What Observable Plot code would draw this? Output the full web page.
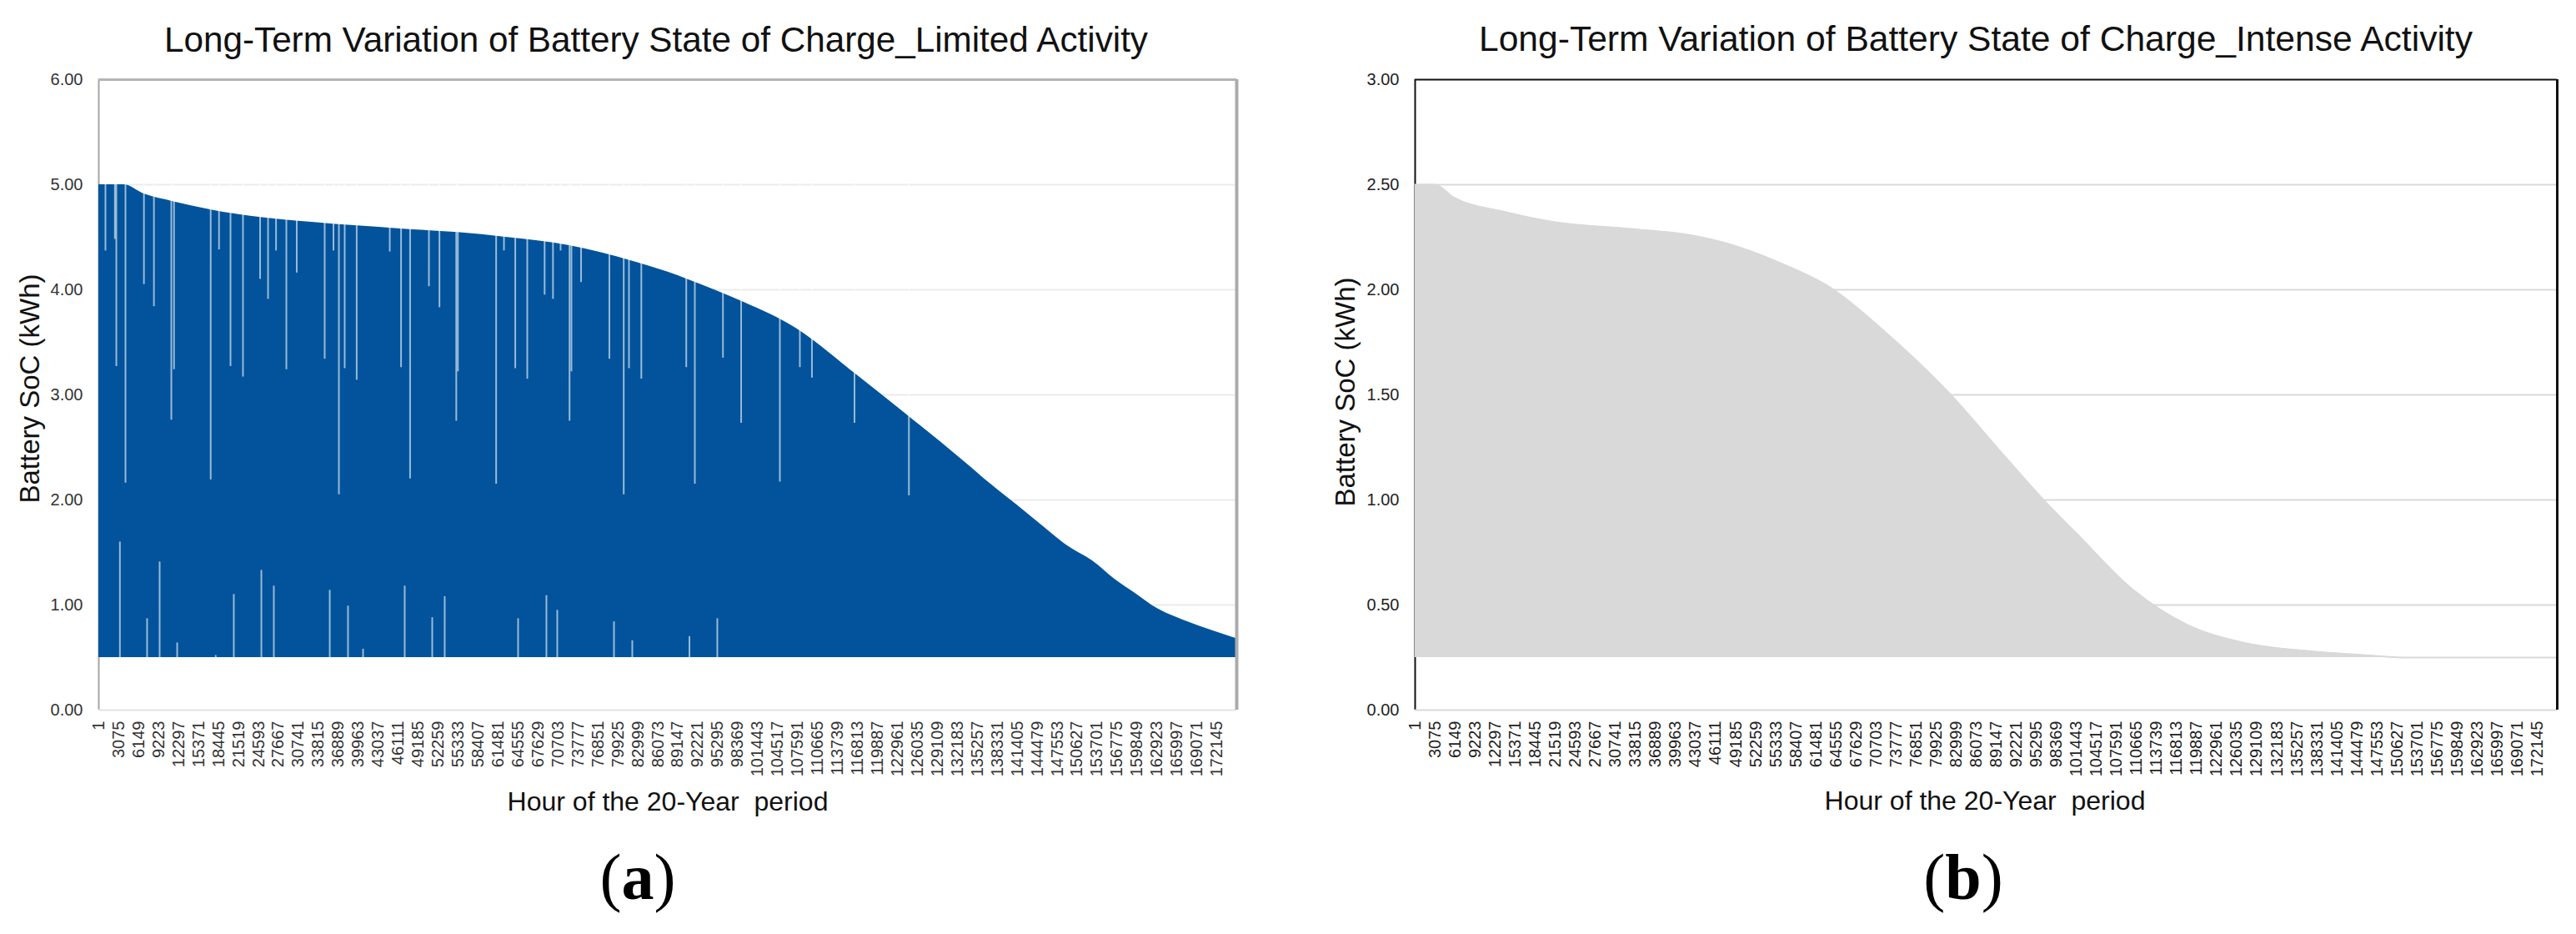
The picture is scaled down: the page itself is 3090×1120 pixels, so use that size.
<!DOCTYPE html>
<html>
<head>
<meta charset="utf-8">
<script src="https://cdn.jsdelivr.net/npm/d3@7"></script>
<script src="https://cdn.jsdelivr.net/npm/@observablehq/plot@0.6"></script>
<style>
html, body { margin: 0; padding: 0; background: #fff; }
#page { position: relative; width: 3090px; height: 1120px; overflow: hidden; background: #fff; }
.panel { position: absolute; top: 0; }
#overlay { position: absolute; left: 0; top: 0; pointer-events: none; }
</style>
</head>
<body>
<div id="page">
  <div id="panelA" class="panel" style="left:0px"></div>
  <div id="panelB" class="panel" style="left:1545px"></div>
</div>
<script>
// ---------------- DATA ----------------
const titleA = "Long-Term Variation of Battery State of Charge_Limited Activity";
const titleB = "Long-Term Variation of Battery State of Charge_Intense Activity";
const yTitle = "Battery SoC (kWh)";
const xTitle = "Hour of the 20-Year  period";

// x tick labels (hour index, every 3074 hours)
const xTickLabels = [1, 3075, 6149, 9223, 12297, 15371, 18445, 21519, 24593, 27667, 30741, 33815,
  36889, 39963, 43037, 46111, 49185, 52259, 55333, 58407, 61481, 64555, 67629, 70703, 73777,
  76851, 79925, 82999, 86073, 89147, 92221, 95295, 98369, 101443, 104517, 107591, 110665,
  113739, 116813, 119887, 122961, 126035, 129109, 132183, 135257, 138331, 141405, 144479,
  147553, 150627, 153701, 156775, 159849, 162923, 165997, 169071, 172145];
const totalHours = 175200;

const yTicksA = [0, 1, 2, 3, 4, 5, 6];
const yTicksB = [0, 0.5, 1, 1.5, 2, 2.5, 3];

// (a) Limited activity: upper envelope of SoC (kWh)
const limitedHours = [1, 3850, 7060, 11420, 17330, 23360, 33180, 46450, 55290, 62660, 72480, 82300,
  87540, 90650, 99340, 107170, 116290, 124240, 133360, 137340, 141405, 145170, 149000, 152990,
  156330, 159849, 162880, 166000, 169420, 175200];
const limitedSoC = [5.00, 5.00, 4.91, 4.84, 4.76, 4.70, 4.64, 4.58, 4.545, 4.50, 4.42, 4.27,
  4.17, 4.10, 3.88, 3.64, 3.21, 2.82, 2.36, 2.15, 1.95, 1.76, 1.57, 1.42,
  1.25, 1.10, 0.97, 0.88, 0.80, 0.68];
const limitedMin = 0.5;   // minimum SoC (bottom of the filled area)
const limitedMax = 5.0;   // battery capacity

// (a) hourly dips: SoC falls from the envelope down to these levels
const dipHours = [1027, 2480, 2700, 4110, 6950, 8490, 11170, 11580, 17230, 18510, 20280, 22200,
  24840, 26060, 27290, 28880, 30480, 34780, 36130, 36970, 37860, 39710, 44800, 46540, 47930,
  50830, 52450, 55040, 55290, 61180, 62380, 64120, 65970, 68640, 69930, 71100, 72480, 72770,
  74250, 78610, 80820, 81630, 83530, 90450, 91770, 96100, 98900, 104860, 107940, 109800,
  116350, 124730];
const dipLows = [4.37, 4.48, 3.27, 2.16, 4.05, 3.84, 2.76, 3.24, 2.19, 4.38, 3.27, 3.17,
  4.10, 3.91, 4.37, 3.24, 4.16, 3.34, 4.37, 2.05, 3.25, 3.14, 4.36, 3.26, 2.20,
  4.03, 3.83, 2.75, 3.22, 2.15, 4.37, 3.25, 3.15, 3.95, 3.91, 4.37, 2.75, 3.22,
  4.07, 3.34, 2.05, 3.25, 3.15, 3.26, 2.15, 3.35, 2.73, 2.17, 3.26, 3.16,
  2.73, 2.04];

// (a) hourly gaps rising from the minimum SoC up to these levels
const spikeHours = [3250, 7440, 9370, 12070, 18000, 20790, 25030, 26950, 35560, 38370, 40690,
  47100, 51340, 53260, 64560, 68920, 70590, 79320, 82140, 90940, 95230];
const spikeHighs = [1.60, 0.87, 1.41, 0.64, 0.52, 1.10, 1.33, 1.18, 1.14, 0.99, 0.58,
  1.18, 0.88, 1.08, 0.87, 1.09, 0.95, 0.84, 0.66, 0.70, 0.87];

// (b) Intense activity SoC (kWh)
const intenseHours = [1, 3070, 5900, 13840, 21780, 33120, 42190, 47860, 55800, 63730, 72800,
  81870, 89810, 93210, 97000, 101150, 110220, 118150, 127220, 137420, 146500, 152170, 175200];
const intenseSoC = [2.50, 2.50, 2.44, 2.37, 2.32, 2.29, 2.26, 2.22, 2.13, 2.01, 1.78,
  1.51, 1.23, 1.11, 0.98, 0.85, 0.57, 0.41, 0.32, 0.28, 0.26, 0.25, 0.25];
const intenseMin = 0.25;

// ---------------- BUILD ----------------
const FONT = '"Liberation Sans", Arial, Helvetica, sans-serif';
const BLUE = "#02539b";
const GREY = "#d9d9d9";

const limited = limitedHours.map((h, i) => ({hour: h, soc: limitedSoC[i]}));
const dips = dipHours.map((h, i) => ({hour: h, low: dipLows[i]}));
const spikes = spikeHours.map((h, i) => ({hour: h, high: spikeHighs[i]}));
const intense = intenseHours.map((h, i) => ({hour: h, soc: intenseSoC[i]}));

const xOpts = {
  domain: [1, totalHours], ticks: xTickLabels, tickFormat: d => String(d),
  tickRotate: -90, tickSize: 0, tickPadding: 13, label: null
};

const chartA = Plot.plot({
  width: 1545, height: 960,
  marginLeft: 118, marginRight: 62, marginTop: 95, marginBottom: 109,
  style: {fontFamily: FONT, fontSize: "20px", color: "#333", background: "transparent", overflow: "visible"},
  x: xOpts,
  y: {domain: [0, 6], ticks: yTicksA, tickFormat: d => d.toFixed(2), tickSize: 0, tickPadding: 19, label: null},
  marks: [
    Plot.ruleY(yTicksA.filter(d => d > 0 && d < 6), {stroke: "#ebebeb", strokeWidth: 2}),
    Plot.ruleX([1], {stroke: "#a6a6a6", strokeWidth: 2}),
    Plot.areaY(limited, {x: "hour", y1: limitedMin, y2: "soc", fill: BLUE, curve: "monotone-x"}),
    Plot.ruleX(dips, {x: "hour", y1: "low", y2: limitedMax, stroke: "white", strokeOpacity: 0.6, strokeWidth: 2}),
    Plot.ruleX(spikes, {x: "hour", y1: limitedMin, y2: "high", stroke: "white", strokeOpacity: 0.6, strokeWidth: 2}),
    Plot.ruleY([0], {stroke: "#e3e3e3", strokeWidth: 2}),
    Plot.ruleY([6], {stroke: "#b4b4b4", strokeWidth: 3}),
    Plot.ruleX([totalHours], {stroke: "#ababab", strokeWidth: 4})
  ]
});
document.getElementById("panelA").appendChild(chartA);

const chartB = Plot.plot({
  width: 1545, height: 960,
  marginLeft: 152, marginRight: 23, marginTop: 95, marginBottom: 109,
  style: {fontFamily: FONT, fontSize: "20px", color: "#222", background: "transparent", overflow: "visible"},
  x: xOpts,
  y: {domain: [0, 3], ticks: yTicksB, tickFormat: d => d.toFixed(2), tickSize: 0, tickPadding: 19, label: null},
  marks: [
    Plot.ruleY(yTicksB.filter(d => d > 0 && d < 3), {stroke: GREY, strokeWidth: 2}),
    Plot.ruleX([1], {stroke: "#111", strokeWidth: 2}),
    Plot.areaY(intense, {x: "hour", y1: intenseMin, y2: "soc", fill: GREY, curve: "monotone-x"}),
    Plot.lineY(intense, {x: "hour", y: "soc", stroke: GREY, strokeWidth: 2, curve: "monotone-x"}),
    Plot.ruleY([0], {stroke: GREY, strokeWidth: 2}),
    Plot.ruleY([3], {stroke: "#111", strokeWidth: 2}),
    Plot.ruleX([totalHours], {stroke: "#111", strokeWidth: 3})
  ]
});
document.getElementById("panelB").appendChild(chartB);

// ---------------- ANNOTATION TEXT ----------------
const svg = d3.select("#page").append("svg")
  .attr("id", "overlay").attr("width", 3090).attr("height", 1120);

function title(txt, cx, y, len) {
  svg.append("text").attr("x", cx).attr("y", y).attr("text-anchor", "middle")
    .attr("font-family", FONT).attr("font-size", 42).attr("fill", "#111")
    .attr("textLength", len).attr("lengthAdjust", "spacingAndGlyphs").text(txt);
}
title(titleA, 787, 62, 1180);
title(titleB, 2370, 61, 1192);

function yLab(cx, cy) {
  svg.append("text").attr("transform", `translate(${cx},${cy}) rotate(-90)`)
    .attr("text-anchor", "middle").attr("font-family", FONT).attr("font-size", 33)
    .attr("fill", "#111").text(yTitle);
}
yLab(47, 466);
yLab(1625, 470);

function xLab(cx, y) {
  svg.append("text").attr("x", cx).attr("y", y).attr("text-anchor", "middle")
    .attr("font-family", FONT).attr("font-size", 32).attr("fill", "#111")
    .style("white-space", "pre").text(xTitle);
}
xLab(801, 972);
xLab(2381, 971);

function panelTag(letter, cx) {
  const t = svg.append("text").attr("x", cx).attr("y", 1078).attr("text-anchor", "middle")
    .attr("font-family", '"Liberation Serif", "Times New Roman", serif').attr("font-size", 78).attr("fill", "#000");
  t.append("tspan").text("(");
  t.append("tspan").attr("font-weight", "bold").text(letter);
  t.append("tspan").text(")");
}
panelTag("a", 765);
panelTag("b", 2355);
</script>
</body>
</html>
